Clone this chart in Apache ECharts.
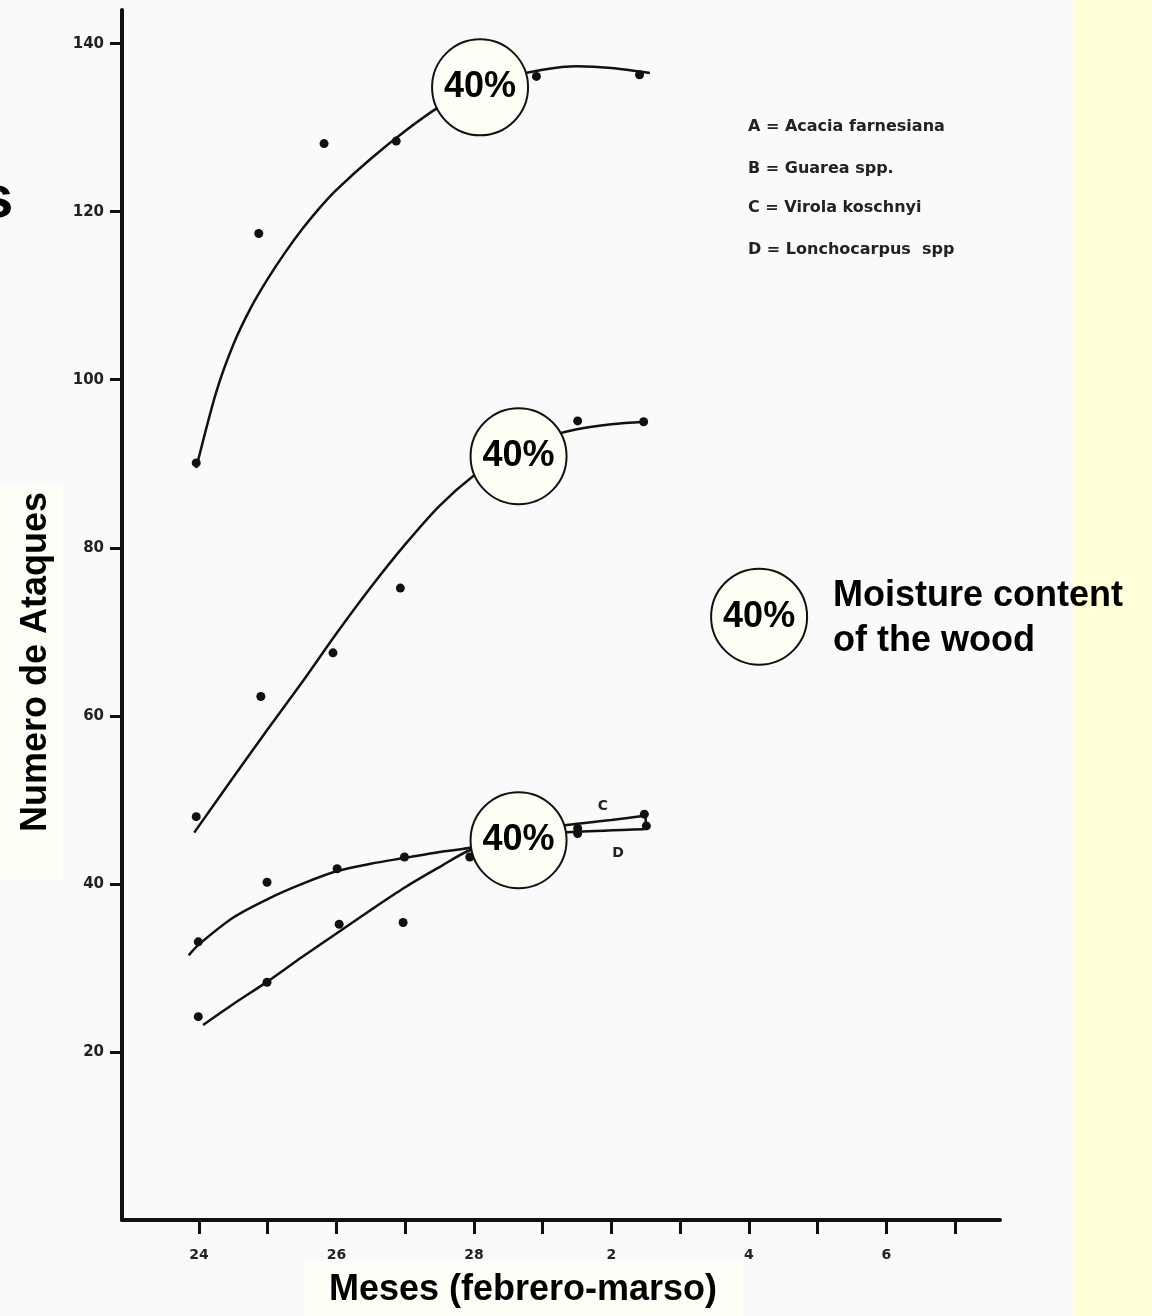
<!DOCTYPE html>
<html><head><meta charset="utf-8">
<script src="https://cdn.jsdelivr.net/npm/echarts@6/dist/echarts.min.js"></script>
<style>html,body{margin:0;padding:0;background:#fafafa;} #c{width:1152px;height:1316px;}</style>
</head><body><div id="c"></div>
<script>
// x positions are day indices: 0 = 24 Feb ... 11 = 7 Mar
const tickLabels = ['24','25','26','27','28','1','2','3','4','5','6','7'];
const xTickIdx = [0,1,2,3,4,5,6,7,8,9,10,11];
const xLabelIdx = [0,2,4,6,8,10];
const yTicks = [20,40,60,80,100,120,140];

const pointsA = [[-0.04,90.1],[0.87,117.4],[1.82,128.1],[2.87,128.4],[4.91,136.1],[6.41,136.3]];
const curveA  = [[-0.04,89.5],[0.25,98.5],[0.5,104.2],[0.75,108.5],[1.0,112.0],[1.25,115.1],[1.5,117.9],[1.75,120.4],[2.0,122.6],[2.5,126.3],[3.0,129.6],[3.5,132.5],[4.0,134.6],[4.5,136.0],[5.0,136.9],[5.5,137.3],[6.0,137.1],[6.56,136.5]];
const pointsB = [[-0.04,48.0],[0.90,62.3],[1.95,67.5],[2.93,75.2],[5.51,95.1],[6.47,95.0]];
const curveB  = [[-0.07,46.1],[0.5,52.7],[1.0,58.4],[1.5,64.0],[2.0,69.8],[2.5,75.3],[3.0,80.4],[3.5,85.0],[4.0,88.6],[4.5,91.3],[5.0,93.0],[5.5,94.1],[6.0,94.7],[6.49,95.0]];
const pointsC = [[-0.01,33.1],[0.99,40.2],[2.01,41.8],[2.99,43.2],[5.51,46.6],[6.48,48.3]];
const curveC  = [[-0.15,31.5],[0.0,32.8],[0.5,36.0],[1.0,38.2],[1.5,40.0],[2.0,41.5],[2.5,42.4],[3.0,43.1],[3.5,43.8],[3.94,44.3],[4.5,45.6],[5.0,46.5],[5.35,47.0],[6.0,47.6],[6.48,48.1]];
const pointsD = [[-0.01,24.2],[0.99,28.3],[2.04,35.2],[2.97,35.4],[3.94,43.2],[5.51,46.0],[6.51,46.9]];
const curveD  = [[0.06,23.2],[0.5,25.7],[1.0,28.4],[1.5,31.3],[2.0,34.1],[2.5,36.9],[3.0,39.6],[3.5,42.0],[3.94,44.0],[4.5,45.3],[5.0,45.9],[5.5,46.2],[6.48,46.5]];
const connectorCD = [[6.50,46.5],[6.50,48.3]];
const moistureMarks = [[4.09,134.8],[4.65,90.9],[4.65,45.2],[8.15,71.8]];
const moistureLabel = '40%';
const legendLines = ['A = Acacia farnesiana','B = Guarea spp.','C = Virola koschnyi','D = Lonchocarpus  spp'];

const ink = '#111';
function curve(name, data){
  return {name, type:'line', data, smooth:0.3, showSymbol:false, symbol:'none',
    lineStyle:{color:ink, width:2.5}, silent:true, z:2};
}
function pts(name, data){
  return {name, type:'scatter', data, symbol:'circle', symbolSize:9,
    itemStyle:{color:ink, opacity:1}, z:3};
}
const chart = echarts.init(document.getElementById('c'), null, {renderer:'canvas'});
chart.setOption({
  backgroundColor:'#fafafa',
  animation:false,
  grid:{left:122, right:152, top:10, bottom:96},
  xAxis:{type:'value', min:-1.12, max:11.655,
    axisLine:{show:true, onZero:false, lineStyle:{color:ink, width:4}},
    axisTick:{show:true, customValues:xTickIdx, length:14, inside:false, lineStyle:{color:ink, width:3}},
    axisLabel:{customValues:xLabelIdx, margin:28, formatter:v=>tickLabels[Math.round(v)],
      color:'#222', fontFamily:'DejaVu Sans', fontWeight:'bold', fontSize:14},
    splitLine:{show:false}},
  yAxis:{type:'value', min:0, max:144,
    axisLine:{show:true, onZero:false, lineStyle:{color:ink, width:4}},
    axisTick:{show:true, customValues:yTicks, length:12, lineStyle:{color:ink, width:3}},
    axisLabel:{customValues:yTicks, margin:18, color:'#222', fontFamily:'DejaVu Sans', fontWeight:'bold', fontSize:15},
    splitLine:{show:false}},
  series:[
    curve('A fit', curveA), pts('A', pointsA),
    curve('B fit', curveB), pts('B', pointsB),
    curve('C fit', curveC), pts('C', pointsC),
    curve('D fit', curveD), pts('D', pointsD),
    {name:'C-D', type:'line', data:connectorCD, showSymbol:false, lineStyle:{color:ink, width:2.5}, z:2},
    {name:'moisture', type:'scatter', data:moistureMarks, symbol:'circle', symbolSize:96, z:10,
      itemStyle:{color:'#fffff5', borderColor:ink, borderWidth:2, opacity:1},
      emphasis:{disabled:true},
      label:{show:true, position:'inside', formatter:moistureLabel, color:'#000',
        fontFamily:'Liberation Sans, Arial', fontWeight:'bold', fontSize:36}}
  ],
  graphic:[
    {type:'rect', shape:{x:1073, y:0, width:79, height:1316}, style:{fill:'#ffffd8'}, z:0},
    {type:'rect', shape:{x:0, y:485, width:63, height:395}, style:{fill:'#fffff8'}, z:0},
    {type:'rect', shape:{x:304, y:1262, width:439, height:54}, style:{fill:'#fffff8'}, z:0},
    {type:'text', x:-20, y:200, style:{text:'s', fill:'#000', font:'bold 60px "Liberation Sans", Arial', textVerticalAlign:'middle'}, z:5},
    {type:'text', x:36, y:662, rotation:Math.PI/2, style:{text:'Numero de Ataques', fill:'#000', font:'bold 36px "Liberation Sans", Arial', textAlign:'center', textVerticalAlign:'middle'}, z:5},
    {type:'text', x:523, y:1290, style:{text:'Meses (febrero-marso)', fill:'#000', font:'bold 36px "Liberation Sans", Arial', textAlign:'center', textVerticalAlign:'middle'}, z:5},
    {type:'text', x:833, y:596, style:{text:'Moisture content', fill:'#000', font:'bold 36px "Liberation Sans", Arial', textVerticalAlign:'middle'}, z:5},
    {type:'text', x:833, y:641, style:{text:'of the wood', fill:'#000', font:'bold 36px "Liberation Sans", Arial', textVerticalAlign:'middle'}, z:5},
    {type:'text', x:748, y:127, style:{text:legendLines[0], fill:'#222', font:'bold 16px "DejaVu Sans"', textVerticalAlign:'middle'}, z:5},
    {type:'text', x:748, y:169, style:{text:legendLines[1], fill:'#222', font:'bold 16px "DejaVu Sans"', textVerticalAlign:'middle'}, z:5},
    {type:'text', x:748, y:208, style:{text:legendLines[2], fill:'#222', font:'bold 16px "DejaVu Sans"', textVerticalAlign:'middle'}, z:5},
    {type:'text', x:748, y:250, style:{text:legendLines[3], fill:'#222', font:'bold 16px "DejaVu Sans"', textVerticalAlign:'middle'}, z:5},
    {type:'text', x:603, y:806, style:{text:'C', fill:'#222', font:'bold 14px "DejaVu Sans"', textAlign:'center', textVerticalAlign:'middle'}, z:5},
    {type:'text', x:618, y:853, style:{text:'D', fill:'#222', font:'bold 14px "DejaVu Sans"', textAlign:'center', textVerticalAlign:'middle'}, z:5}
  ]
});
</script></body></html>
